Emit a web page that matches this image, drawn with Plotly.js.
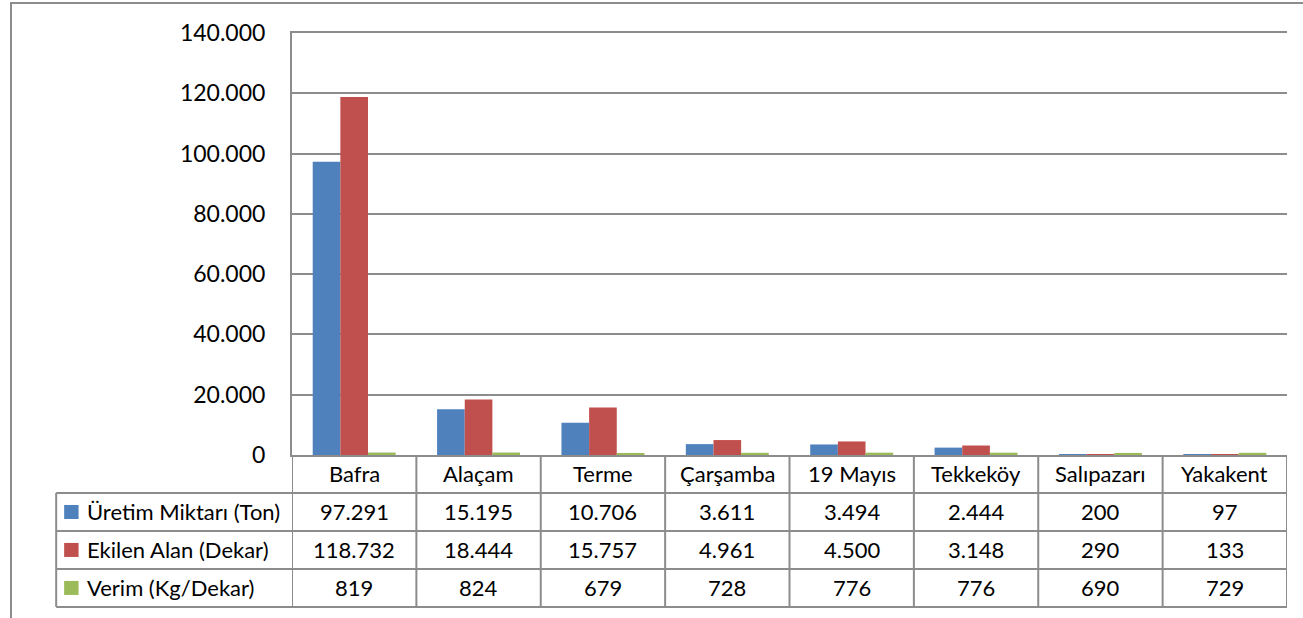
<!DOCTYPE html>
<html>
<head>
<meta charset="utf-8">
<script src="https://cdn.plot.ly/plotly-3.0.1.min.js"></script>
<style>
  html, body { margin: 0; padding: 0; background: #fff; }
  #plot { width: 1303px; height: 618px; }
</style>
</head>
<body>
<div id="plot"></div>
<script>
  var ilceler = ['Bafra', 'Alaçam', 'Terme', 'Çarşamba', '19 Mayıs', 'Tekkeköy', 'Salıpazarı', 'Yakakent'];
  var uretim = [97291, 15195, 10706, 3611, 3494, 2444, 200, 97];
  var ekilen = [118732, 18444, 15757, 4961, 4500, 3148, 290, 133];
  var verim = [819, 824, 679, 728, 776, 776, 690, 729];

  var seriAdlari = ['Üretim Miktarı (Ton)', 'Ekilen Alan (Dekar)', 'Verim (Kg/Dekar)'];
  var renkler = ['#4F81BD', '#C0504D', '#9BBB59'];
  var seriler = [uretim, ekilen, verim];

  var gri = '#8c8c8c';
  var yaziTipi = 'Lato, "Open Sans", sans-serif';
  var tabloBoyut = 22;

  // turkish thousands separator
  function bicim(n) {
    return String(n).replace(/\B(?=(\d{3})+(?!\d))/g, '.');
  }

  var data = seriler.map(function (s, i) {
    return {
      x: ilceler,
      y: s,
      type: 'bar',
      name: seriAdlari[i],
      marker: { color: renkler[i] },
      hoverinfo: 'x+y+name'
    };
  });

  // table geometry (paper units)
  var satirY = [0, -0.09, -0.18, -0.27, -0.36];
  var solX = -0.237;

  var shapes = [];
  var annotations = [];

  // horizontal lines of the table
  for (var r = 1; r < satirY.length; r++) {
    shapes.push({ type: 'line', xref: 'paper', yref: 'paper', x0: solX, x1: 1, y0: satirY[r], y1: satirY[r],
      line: { color: gri, width: 2 } });
  }
  // left border of the legend column
  shapes.push({ type: 'line', xref: 'paper', yref: 'paper', x0: solX, x1: solX, y0: satirY[1], y1: satirY[4],
    line: { color: gri, width: 2 } });
  // vertical lines between categories
  for (var c = 0; c <= ilceler.length; c++) {
    shapes.push({ type: 'line', xref: 'x', yref: 'paper', x0: c - 0.5, x1: c - 0.5, y0: 0, y1: satirY[4],
      line: { color: gri, width: 2 } });
  }
  // outer chart border
  shapes.push({ type: 'rect', xref: 'paper', yref: 'paper', x0: -0.2824, x1: 1.2, y0: -0.6, y1: 1.0711,
    line: { color: gri, width: 2 } });

  // category header
  ilceler.forEach(function (ad) {
    annotations.push({ x: ad, xref: 'x', y: -0.045, yref: 'paper', text: ad, showarrow: false,
      xanchor: 'center', yanchor: 'middle', font: { family: yaziTipi, size: tabloBoyut, color: '#000' } });
  });

  // series rows
  seriler.forEach(function (s, i) {
    var yc = (satirY[i + 1] + satirY[i + 2]) / 2;
    shapes.push({ type: 'rect', xref: 'paper', yref: 'paper', x0: -0.229, x1: -0.2145,
      y0: yc - 0.0166, y1: yc + 0.0166, fillcolor: renkler[i], line: { width: 0 } });
    annotations.push({ x: -0.208, xref: 'paper', y: yc, yref: 'paper', text: seriAdlari[i], showarrow: false,
      xanchor: 'left', yanchor: 'middle', font: { family: yaziTipi, size: tabloBoyut, color: '#000' } });
    s.forEach(function (v, j) {
      annotations.push({ x: ilceler[j], xref: 'x', y: yc, yref: 'paper', text: bicim(v), showarrow: false,
        xanchor: 'center', yanchor: 'middle', font: { family: yaziTipi, size: tabloBoyut, color: '#000' } });
    });
  });

  var layout = {
    width: 1303,
    height: 618,
    margin: { l: 292, r: 16, t: 33, b: 163 },
    paper_bgcolor: '#fff',
    plot_bgcolor: '#fff',
    separators: ',.',
    showlegend: false,
    barmode: 'group',
    bargap: 0.333,
    bargroupgap: 0,
    font: { family: yaziTipi, color: '#000' },
    xaxis: {
      type: 'category',
      range: [-0.5, 7.5],
      showticklabels: false,
      showgrid: false,
      showline: true,
      mirror: true,
      linecolor: gri,
      linewidth: 2,
      ticks: '',
      fixedrange: true
    },
    yaxis: {
      range: [0, 140000],
      tick0: 0,
      dtick: 20000,
      tickformat: ',d',
      showgrid: true,
      gridcolor: gri,
      gridwidth: 1.5,
      zeroline: false,
      showline: true,
      linecolor: gri,
      linewidth: 2,
      ticks: '',
      ticklabelstandoff: 20,
      tickfont: { family: yaziTipi, size: 23, color: '#000' },
      fixedrange: true
    },
    shapes: shapes,
    annotations: annotations
  };

  Plotly.newPlot('plot', data, layout, { displayModeBar: false, responsive: false });
</script>
</body>
</html>
